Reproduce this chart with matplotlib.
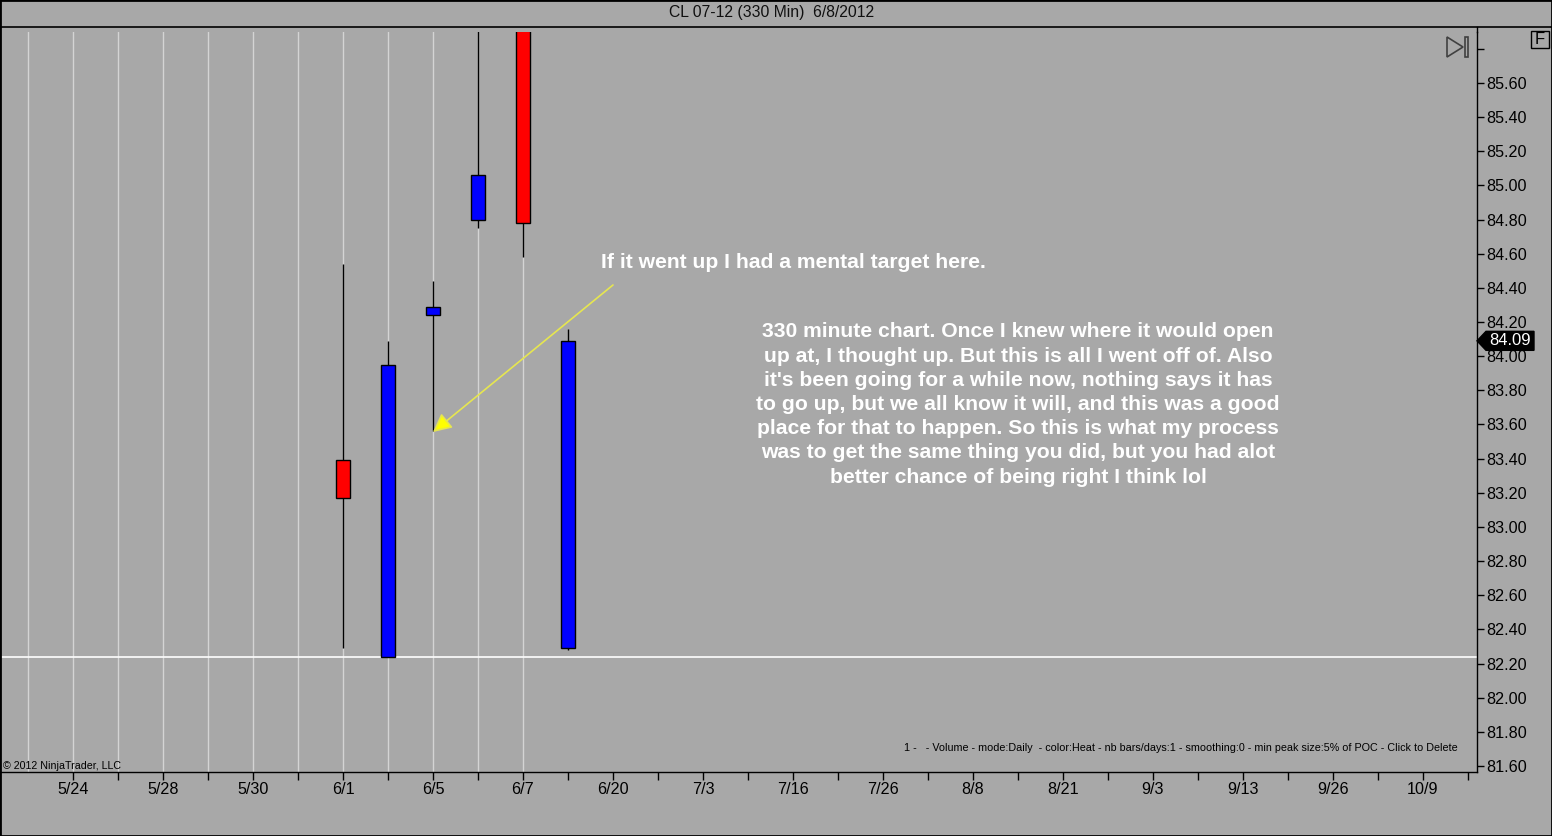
import matplotlib
matplotlib.use("Agg")
import matplotlib.pyplot as plt
from matplotlib.patches import Rectangle, Polygon
from matplotlib.lines import Line2D
from matplotlib.transforms import blended_transform_factory
from matplotlib.ticker import FixedLocator, FixedFormatter

# ---------------- data ----------------
bar_index = [7, 8, 9, 10, 11, 12]
opens  = [83.39, 82.24, 84.24, 84.80, 86.10, 82.29]
highs  = [84.54, 84.09, 84.44, 86.20, 86.25, 84.16]
lows   = [82.29, 82.24, 83.56, 84.75, 84.58, 82.28]
closes = [83.17, 83.95, 84.29, 85.06, 84.78, 84.09]

date_tick_index = [1, 3, 5, 7, 9, 11, 13, 15, 17, 19, 21, 23, 25, 27, 29, 31]
date_labels = ['5/24', '5/28', '5/30', '6/1', '6/5', '6/7', '6/20', '7/3',
               '7/16', '7/26', '8/8', '8/21', '9/3', '9/13', '9/26', '10/9']
minor_tick_index = list(range(2, 33, 2))
grid_index = list(range(0, 12))

price_ticks = [81.60, 81.80, 82.00, 82.20, 82.40, 82.60, 82.80, 83.00, 83.20,
               83.40, 83.60, 83.80, 84.00, 84.20, 84.40, 84.60, 84.80, 85.00,
               85.20, 85.40, 85.60, 85.80]
last_price = 84.09
low_line_price = 82.24

title = "CL 07-12 (330 Min)  6/8/2012"
callout_text = "If it went up I had a mental target here."
arrow_tip = (9.0, 83.556)
arrow_tail = (13.0, 84.417)
note_lines = [
    "330 minute chart. Once I knew where it would open",
    "up at, I thought up. But this is all I went off of. Also",
    "it's been going for a while now, nothing says it has",
    "to go up, but we all know it will, and this was a good",
    "place for that to happen. So this is what my process",
    "was to get the same thing you did, but you had alot",
    "better chance of being right I think lol",
]
copyright_text = "\u00a9 2012 NinjaTrader, LLC"
indicator_text = ("1 -   - Volume - mode:Daily  - color:Heat - nb bars/days:1 - "
                  "smoothing:0 - min peak size:5% of POC - Click to Delete")

# ---------------- layout ----------------
W, H = 1552, 836
BG = '#A8A8A8'
plt.rcParams['font.family'] = ['Liberation Sans', 'DejaVu Sans']

def fx(px):
    return px / W

def fy(py):
    return 1 - py / H

fig = plt.figure(figsize=(W / 100, H / 100), dpi=100, facecolor=BG)

ax_left, ax_right, ax_top, ax_bot = 1, 1477, 32, 772
ax = fig.add_axes([fx(ax_left), fy(ax_bot), fx(ax_right - ax_left), (ax_bot - ax_top) / H])
ax.set_facecolor(BG)

ppx = 170.75  # pixels per price unit
ax.set_ylim(85.60 - (ax_bot - 83) / ppx, 85.60 + (83 - ax_top) / ppx)
ax.set_xlim((ax_left - 28) / 45, (ax_right - 28) / 45)

# grid lines
for g in grid_index:
    ax.axvline(g, color='#D4D4D4', lw=1, zorder=0)

# white horizontal line
ax.axhline(low_line_price, color='white', lw=1.2, zorder=1)

# candles
for i, o, h, l, c in zip(bar_index, opens, highs, lows, closes):
    ax.vlines(i, l, h, color='black', lw=1, zorder=2)
    col = '#0000FF' if c >= o else '#FF0000'
    ax.bar(i, abs(c - o), bottom=min(o, c), width=0.32, color=col,
           edgecolor='black', linewidth=1, zorder=3)

# arrow annotation
ax.annotate('', xy=arrow_tip, xytext=arrow_tail,
            arrowprops=dict(arrowstyle='-|>', color='#E6E650', lw=1.2,
                            mutation_scale=28, shrinkA=0, shrinkB=0,
                            fc='#FFFF00', ec='#E6E650'), zorder=4)

# axes styling
for s in ['left', 'top']:
    ax.spines[s].set_visible(False)
for s in ['right', 'bottom']:
    ax.spines[s].set_color('black')
    ax.spines[s].set_linewidth(1)

ax.yaxis.tick_right()
ax.yaxis.set_major_locator(FixedLocator(price_ticks))
ax.yaxis.set_major_formatter(FixedFormatter(['' if p > 85.7 else f"{p:.2f}" for p in price_ticks]))
ax.tick_params(axis='y', direction='out', length=5, width=1, labelsize=11.6, pad=2, colors='black')

ax.xaxis.set_major_locator(FixedLocator(date_tick_index))
ax.xaxis.set_major_formatter(FixedFormatter(date_labels))
ax.xaxis.set_minor_locator(FixedLocator(minor_tick_index))
ax.tick_params(axis='x', which='both', direction='out', length=6, width=1,
               labelsize=11.6, pad=1, colors='black')

# last price marker
trans = blended_transform_factory(ax.transAxes, ax.transData)
axw = ax_right - ax_left
dy = 9.5 / ppx
marker = Polygon([(1.0, last_price), (1 + 9 / axw, last_price + dy),
                  (1 + 57 / axw, last_price + dy), (1 + 57 / axw, last_price - dy),
                  (1 + 9 / axw, last_price - dy)], closed=True, transform=trans,
                 facecolor='black', edgecolor='black', clip_on=False, zorder=10)
ax.add_patch(marker)
ax.text(1 + 33 / axw, last_price, f"{last_price:.2f}", transform=trans, color='white',
        fontsize=12, ha='center', va='center', clip_on=False, zorder=11)

# ---------------- figure decorations ----------------
fig.add_artist(Line2D([0, 1], [fy(27), fy(27)], color='black', lw=1.2))
fig.add_artist(Line2D([fx(ax_right), fx(ax_right)], [fy(27), fy(ax_top)], color='black', lw=1))
fig.add_artist(Rectangle((0, 0), 1, 1, transform=fig.transFigure, fill=False,
                         edgecolor='black', lw=2))

fig.text(fx(772), fy(13), title, ha='center', va='center', fontsize=11.3, color='#101010')

fig.text(fx(601), fy(262), callout_text, ha='left', va='center', fontsize=15.2,
         fontweight='bold', color='white')
for k, line in enumerate(note_lines):
    fig.text(fx(1018), fy(332 + 24.17 * k), line, ha='center', va='center',
             fontsize=15.2, fontweight='bold', color='white')

fig.text(fx(3), fy(766), copyright_text, ha='left', va='center', fontsize=7.7, color='black')
fig.text(fx(1458), fy(748), indicator_text, ha='right', va='center', fontsize=7.75, color='black')

# F box
fig.add_artist(Rectangle((fx(1531), fy(48)), fx(18), 17 / H, transform=fig.transFigure,
                         fill=False, edgecolor='black', lw=1))
fig.text(fx(1540), fy(39.5), 'F', ha='center', va='center', fontsize=12, color='black')

# go-to-end icon
fig.add_artist(Polygon([(fx(1447), fy(37)), (fx(1447), fy(57)), (fx(1463), fy(47))],
                       closed=True, transform=fig.transFigure, fill=False,
                       edgecolor='#404040', lw=1.2))
fig.add_artist(Rectangle((fx(1465), fy(57)), fx(3), 20 / H, transform=fig.transFigure,
                         fill=False, edgecolor='#404040', lw=1.2))

fig.savefig('out.png', dpi=100, facecolor=BG)
